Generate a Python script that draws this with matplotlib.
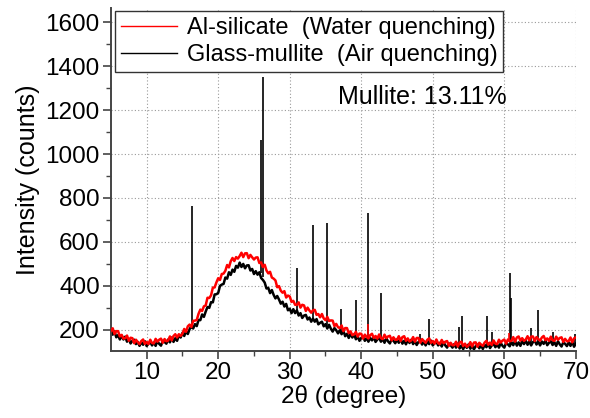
import numpy as np
import matplotlib
matplotlib.use("Agg")
import matplotlib.pyplot as plt

plt.rcParams['font.family'] = ['Liberation Sans', 'DejaVu Sans']

# sampling grid of the scan (deg 2theta)
two_theta = np.arange(5.0, 70.001, 0.25)

# Glass-mullite (air quenching) amorphous background, counts
counts_air = [
    198, 178, 193, 166, 176, 156, 174, 156, 169, 146, 158, 138, 150, 155, 135, 145,
    127, 144, 132, 148, 126, 137, 145, 129, 142, 127, 149, 136, 128, 150, 145, 137,
    156, 143, 165, 145, 162, 150, 175, 165, 186, 172, 193, 181, 203, 217, 206, 226,
    217, 245, 244, 270, 259, 283, 304, 300, 326, 325, 361, 362, 368, 400, 406, 409,
    438, 433, 462, 450, 474, 464, 491, 483, 506, 486, 500, 480, 493, 494, 470, 477,
    454, 467, 451, 462, 436, 427, 415, 388, 391, 367, 381, 359, 343, 354, 338, 319,
    328, 306, 318, 289, 296, 276, 294, 276, 289, 265, 276, 254, 265, 268, 247, 256,
    237, 251, 237, 249, 225, 232, 237, 216, 226, 206, 223, 205, 192, 208, 198, 184,
    198, 180, 196, 171, 182, 163, 182, 165, 179, 157, 170, 150, 163, 169, 150, 163,
    146, 163, 152, 167, 145, 156, 163, 146, 158, 141, 162, 147, 138, 157, 150, 139,
    156, 141, 159, 137, 150, 134, 154, 140, 155, 135, 149, 131, 145, 152, 133, 146,
    129, 147, 135, 151, 129, 139, 147, 129, 141, 124, 144, 129, 119, 138, 130, 119,
    135, 119, 138, 115, 129, 112, 133, 118, 134, 114, 129, 111, 126, 133, 116, 129,
    113, 132, 121, 138, 117, 129, 137, 121, 134, 119, 140, 127, 119, 140, 134, 125,
    144, 130, 150, 128, 143, 127, 149, 135, 151, 132, 147, 129, 144, 151, 133, 146,
    129, 147, 136, 152, 130, 141, 148, 131, 144, 127, 148, 134, 124, 144, 136, 126,
    143, 127, 146, 123, 137,
]

# Al-silicate (water quenching), counts
counts_water = [
    196, 207, 181, 194, 194, 170, 177, 160, 162, 174, 150, 164, 162, 139, 155, 144,
    135, 149, 156, 136, 145, 135, 155, 140, 138, 159, 146, 155, 160, 141, 158, 148,
    151, 170, 152, 172, 180, 165, 180, 172, 182, 204, 191, 216, 224, 213, 241, 242,
    245, 273, 292, 286, 307, 311, 346, 345, 357, 392, 393, 416, 435, 427, 454, 456,
    469, 495, 484, 512, 527, 513, 531, 524, 536, 551, 531, 548, 549, 526, 541, 530,
    520, 529, 530, 504, 507, 486, 496, 470, 457, 464, 438, 433, 425, 394, 399, 378,
    369, 376, 347, 356, 352, 327, 332, 314, 314, 325, 301, 314, 311, 286, 301, 288,
    278, 289, 291, 268, 272, 257, 272, 252, 244, 259, 240, 243, 242, 217, 227, 212,
    208, 220, 194, 208, 208, 185, 193, 176, 179, 191, 169, 183, 182, 160, 178, 168,
    161, 176, 182, 163, 172, 160, 179, 162, 158, 178, 163, 170, 173, 152, 166, 155,
    155, 171, 149, 167, 171, 150, 161, 147, 152, 167, 146, 163, 163, 141, 158, 149,
    141, 155, 161, 141, 149, 137, 156, 139, 135, 154, 139, 146, 149, 127, 141, 130,
    130, 146, 124, 142, 146, 126, 137, 123, 129, 144, 124, 142, 143, 123, 141, 133,
    127, 142, 150, 132, 142, 131, 152, 137, 135, 155, 142, 151, 156, 137, 156, 148,
    150, 167, 146, 165, 170, 151, 162, 150, 156, 171, 152, 169, 170, 149, 167, 158,
    151, 165, 172, 153, 161, 150, 169, 153, 150, 169, 155, 163, 166, 145, 159, 148,
    149, 165, 143, 161, 166,
]

# sharp crystalline reflections (air quenched sample)
peak_pos_air = [16.38, 25.96, 26.24, 31.0, 33.3, 35.25, 37.1, 39.3, 40.95, 42.7,
                48.2, 49.5, 53.7, 54.1, 57.6, 58.3, 60.75, 61.0, 63.75, 64.75, 66.8, 69.9]
peak_base_air = [205, 460, 440, 280, 250, 222, 190, 168, 158, 153,
                 142, 139, 125, 124, 126, 127, 135, 136, 141, 140, 138, 133]
peak_top_air = [765, 1062, 1352, 480, 677, 685, 295, 338, 733, 368,
                180, 248, 215, 265, 262, 190, 460, 345, 210, 292, 188, 182]

# weak bumps in the water quenched sample
peak_pos_water = [40.9, 60.6]
peak_base_water = [172, 148]
peak_top_water = [225, 185]

fig = plt.figure(figsize=(5.9, 4.18), dpi=100)
ax = fig.add_axes([0.188, 0.161, 0.788, 0.82])

ax.plot(two_theta, counts_air, color='black', lw=1.8,
        label='Glass-mullite  (Air quenching)', zorder=2)
ax.vlines(peak_pos_air, peak_base_air, peak_top_air, color='black', lw=1.2, zorder=2)
ax.plot(two_theta, counts_water, color='red', lw=1.8,
        label='Al-silicate  (Water quenching)', zorder=3)
ax.vlines(peak_pos_water, peak_base_water, peak_top_water, color='red', lw=1.2, zorder=3)

ax.set_xlim(5, 70)
ax.set_ylim(105, 1665)
ax.set_xticks([10, 20, 30, 40, 50, 60, 70])
ax.set_xticks([15, 25, 35, 45, 55, 65], minor=True)
ax.set_yticks([200, 400, 600, 800, 1000, 1200, 1400, 1600])
ax.set_yticks([300, 500, 700, 900, 1100, 1300, 1500], minor=True)

ax.grid(True, which='major', color='#999999', lw=0.8, linestyle=(0, (1, 2)))
ax.set_axisbelow(True)

for side in ['top', 'right']:
    ax.spines[side].set_visible(False)
for side in ['left', 'bottom']:
    ax.spines[side].set_color('#444444')
    ax.spines[side].set_linewidth(1.4)

ax.tick_params(which='major', direction='out', length=6, width=1.2, color='#444444',
               labelsize=17.5, pad=2)
ax.tick_params(which='minor', direction='out', length=3.5, width=1.0, color='#444444')

ax.set_xlabel('2\u03b8 (degree)', fontsize=17.5, labelpad=1)
ax.set_ylabel('Intensity (counts)', fontsize=18, labelpad=4)

ax.text(48.6, 1259, 'Mullite: 13.11%', fontsize=18, ha='center', va='center')

handles, labels = ax.get_legend_handles_labels()
leg = ax.legend(handles[::-1], labels[::-1], loc='upper left', bbox_to_anchor=(0.008, 0.99),
                borderaxespad=0, fontsize=17, frameon=True, fancybox=False,
                framealpha=1, edgecolor='#333333', handlelength=2.4,
                handletextpad=0.4, labelspacing=0.2, borderpad=0.25)
leg.get_frame().set_linewidth(1.0)
for line in leg.get_lines():
    line.set_linewidth(1.0)

plt.savefig('out.png', dpi=100)
